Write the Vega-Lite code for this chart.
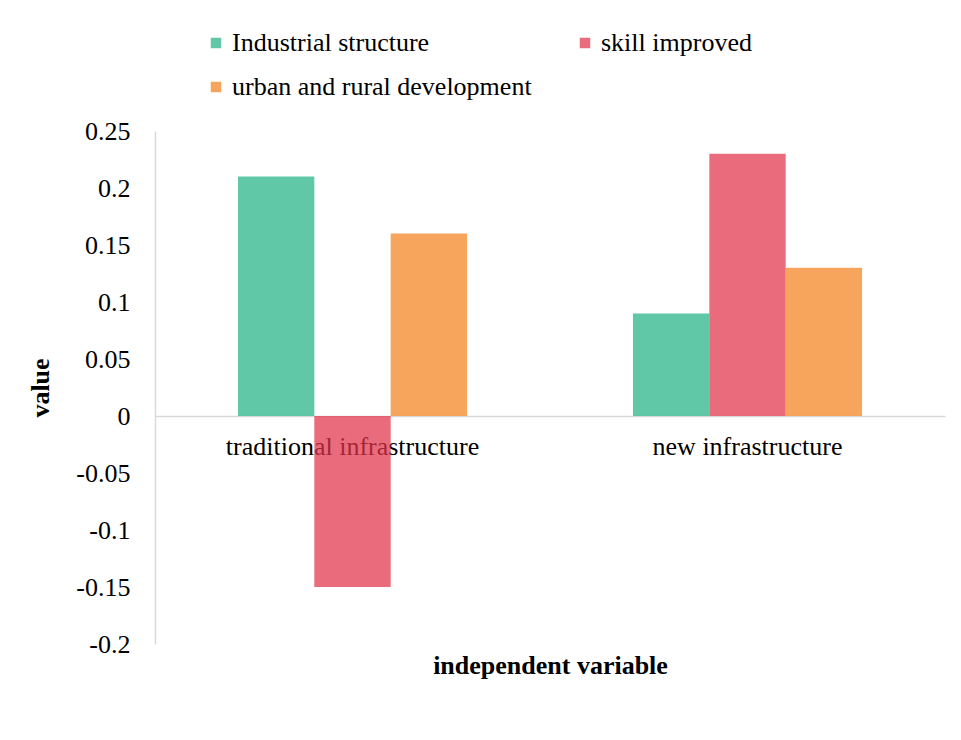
{
  "$schema": "https://vega.github.io/schema/vega-lite/v6.json",
  "width": 790,
  "height": 513,
  "autosize": "none",
  "padding": {"left": 155, "top": 131, "right": 16, "bottom": 96},
  "background": "white",
  "config": {
    "font": "Liberation Serif",
    "view": {"stroke": null}
  },
  "data": {
    "values": [
      {"category": "traditional infrastructure", "series": "Industrial structure", "value": 0.21},
      {"category": "traditional infrastructure", "series": "skill improved", "value": -0.15},
      {"category": "traditional infrastructure", "series": "urban and rural development", "value": 0.16},
      {"category": "new infrastructure", "series": "Industrial structure", "value": 0.09},
      {"category": "new infrastructure", "series": "skill improved", "value": 0.23},
      {"category": "new infrastructure", "series": "urban and rural development", "value": 0.13}
    ]
  },
  "mark": {"type": "bar", "fillOpacity": 0.72},
  "encoding": {
    "x": {
      "field": "category",
      "type": "nominal",
      "sort": ["traditional infrastructure", "new infrastructure"],
      "scale": {"paddingInner": 0.42, "paddingOuter": 0.21},
      "axis": {
        "title": "independent variable",
        "titleFont": "Liberation Serif",
        "titleFontSize": 26,
        "titleFontWeight": "bold",
        "titleColor": "#000000",
        "titleY": 236,
        "offset": -228,
        "labelAngle": 0,
        "labelFont": "Liberation Serif",
        "labelFontSize": 26,
        "labelColor": "#000000",
        "labelPadding": 17,
        "labelLimit": 500,
        "ticks": false,
        "domainColor": "#d9d9d9",
        "domainWidth": 1.5
      }
    },
    "xOffset": {
      "field": "series",
      "type": "nominal",
      "sort": ["Industrial structure", "skill improved", "urban and rural development"],
      "scale": {"paddingInner": 0, "paddingOuter": 0}
    },
    "y": {
      "field": "value",
      "type": "quantitative",
      "scale": {"domain": [-0.2, 0.25], "nice": false, "zero": false},
      "axis": {
        "title": "value",
        "titleFont": "Liberation Serif",
        "titleFontSize": 26,
        "titleFontWeight": "bold",
        "titleColor": "#000000",
        "titlePadding": 22,
        "values": [-0.2, -0.15, -0.1, -0.05, 0, 0.05, 0.1, 0.15, 0.2, 0.25],
        "labelExpr": "'' + datum.value",
        "labelFont": "Liberation Serif",
        "labelFontSize": 26,
        "labelColor": "#000000",
        "labelPadding": 25,
        "ticks": false,
        "grid": false,
        "domainColor": "#d9d9d9",
        "domainWidth": 1.5
      }
    },
    "color": {
      "field": "series",
      "type": "nominal",
      "sort": ["Industrial structure", "skill improved", "urban and rural development"],
      "scale": {
        "domain": ["Industrial structure", "skill improved", "urban and rural development"],
        "range": ["#22b384", "#e2334a", "#f4821f"]
      },
      "legend": {
        "title": null,
        "orient": "none",
        "legendX": 48,
        "legendY": -101,
        "direction": "horizontal",
        "columns": 2,
        "columnPadding": 40,
        "rowPadding": 18,
        "symbolType": "square",
        "symbolSize": 110,
        "symbolOpacity": 0.72,
        "symbolStrokeWidth": 0,
        "labelFont": "Liberation Serif",
        "labelFontSize": 26,
        "labelColor": "#000000",
        "labelOffset": 3,
        "labelLimit": 500
      }
    }
  }
}
